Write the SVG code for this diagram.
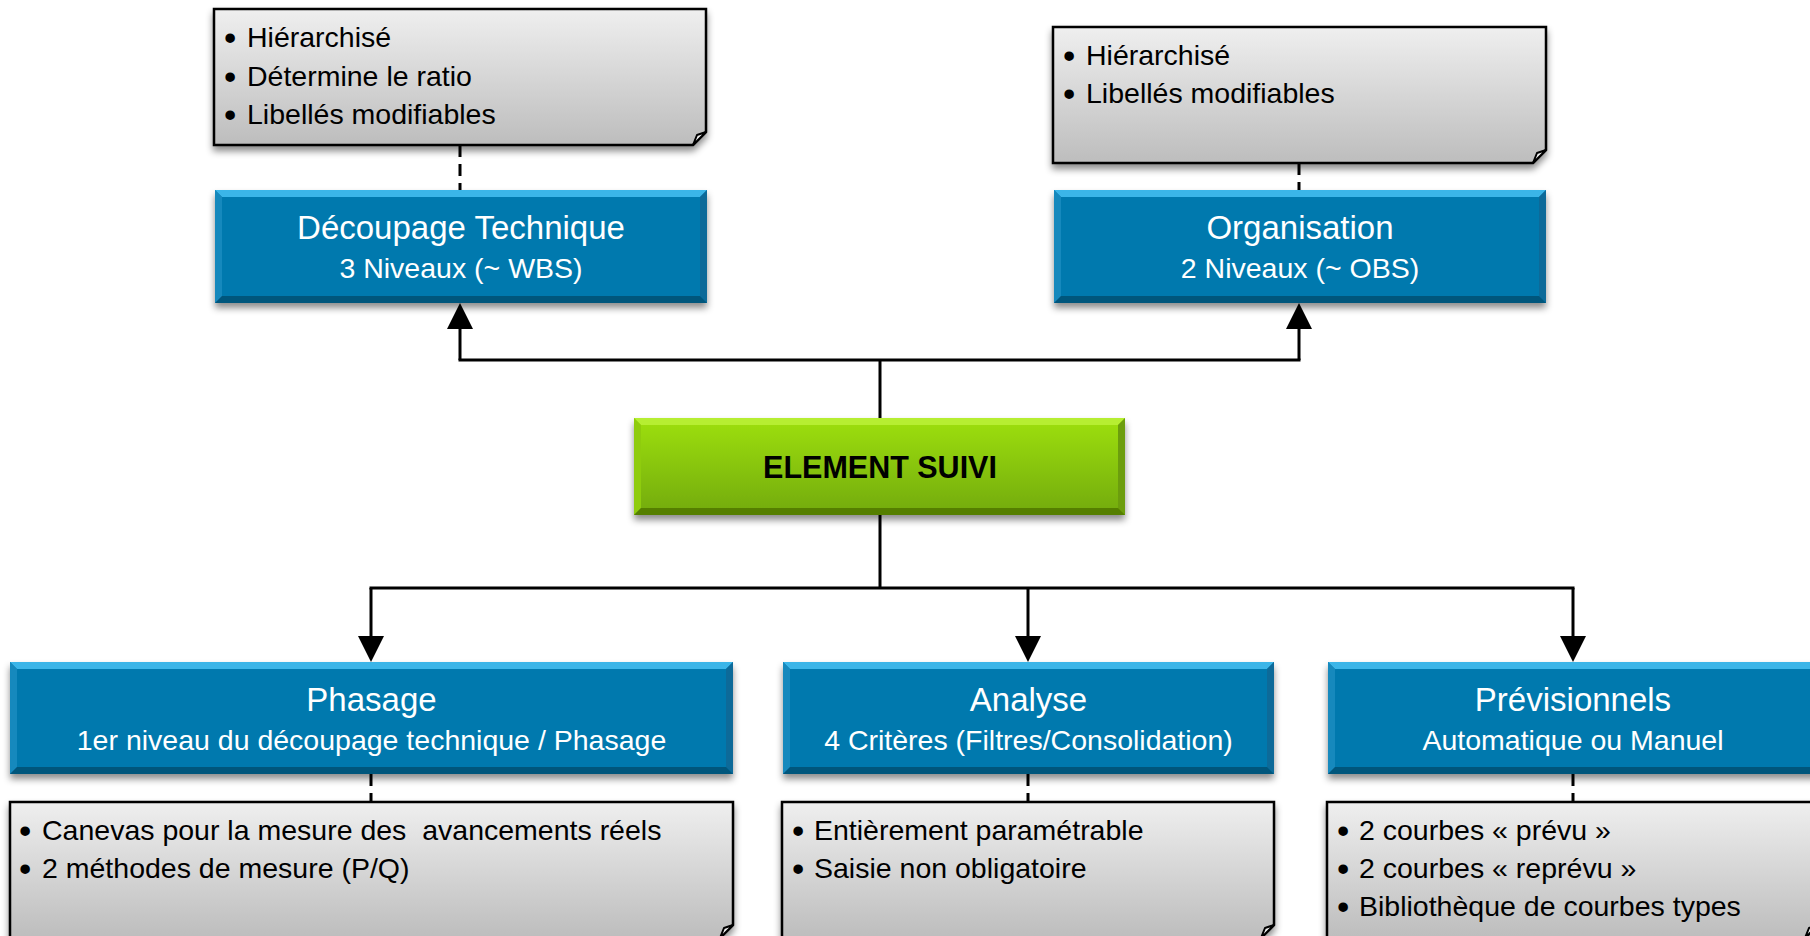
<svg xmlns="http://www.w3.org/2000/svg" width="1810" height="936" viewBox="0 0 1810 936">
<style>
.t{font-family:"Liberation Sans",Arial,sans-serif;}
.title{font-size:33px;fill:#fff;text-anchor:middle;}
.sub{font-size:28.5px;fill:#fff;text-anchor:middle;}
.note{font-size:28.5px;fill:#000;}
.bu{font-size:35px;}
.main{font-size:30.5px;font-weight:bold;fill:#000;text-anchor:middle;}
.conn{fill:none;stroke:#000;stroke-width:3;}
.dash{fill:none;stroke:#000;stroke-width:3;stroke-dasharray:12,7;}
.nb{fill:url(#gNote);stroke:#000;stroke-width:2.5;}
.fold{fill:#f4f4f4;stroke:#000;stroke-width:2;stroke-linejoin:round;}
.bm{fill:#0679AE;}
.bt{fill:#3BB5E8;}
.bl{fill:#1589BD;}
.br{fill:#0A6A99;}
.bb{fill:#05567C;}
.gm{fill:url(#gGreen);}
.gt{fill:#B6EE30;}
.gl{fill:#8FCC0C;}
.gr{fill:#6C9D07;}
.gb{fill:#557F05;}
</style>
<defs>
<linearGradient id="gNote" x1="0" y1="0" x2="0" y2="1">
<stop offset="0" stop-color="#EFEFEF"/>
<stop offset="1" stop-color="#BDBDBD"/>
</linearGradient>
<linearGradient id="gGreen" x1="0" y1="0" x2="0" y2="1">
<stop offset="0" stop-color="#9EE00E"/>
<stop offset="1" stop-color="#72AA08"/>
</linearGradient>
<filter id="sh" x="-5%" y="-10%" width="110%" height="130%">
<feDropShadow dx="0" dy="5" stdDeviation="3.5" flood-color="#000" flood-opacity="0.45"/>
</filter>
<marker id="arr" markerUnits="userSpaceOnUse" markerWidth="26" markerHeight="26" refX="0" refY="13" orient="auto" viewBox="0 0 26 26">
<path d="M0,0 L26,13 L0,26 Z" fill="#000"/>
</marker>
</defs>

<g id="connectors">
<path class="dash" d="M460,145 V190"/>
<path class="dash" d="M1299,163 V190"/>
<path class="dash" d="M371,774 V802"/>
<path class="dash" d="M1028,774 V802"/>
<path class="dash" d="M1573,774 V802"/>
<path class="conn" d="M880,418 V360"/>
<path class="conn" d="M458.5,360 H1300.5"/>
<path class="conn" d="M460,360 V329" marker-end="url(#arr)"/>
<path class="conn" d="M1299,360 V329" marker-end="url(#arr)"/>
<path class="conn" d="M880,515 V588"/>
<path class="conn" d="M369.5,588 H1574.5"/>
<path class="conn" d="M371,588 V636" marker-end="url(#arr)"/>
<path class="conn" d="M1028,588 V636" marker-end="url(#arr)"/>
<path class="conn" d="M1573,588 V636" marker-end="url(#arr)"/>
</g>

<g id="note-wbs">
<path class="nb" filter="url(#sh)" d="M214,9 H706 V132 L693,145 H214 Z"/>
<path class="fold" d="M693,145 L697,135 L706,132 Z"/>
<text class="t note"><tspan class="bu" x="224" y="50">•</tspan><tspan x="247" y="47">Hiérarchisé</tspan></text>
<text class="t note"><tspan class="bu" x="224" y="89">•</tspan><tspan x="247" y="86">Détermine le ratio</tspan></text>
<text class="t note"><tspan class="bu" x="224" y="127">•</tspan><tspan x="247" y="124">Libellés modifiables</tspan></text>
</g>

<g id="note-obs">
<path class="nb" filter="url(#sh)" d="M1053,27 H1546 V150 L1533,163 H1053 Z"/>
<path class="fold" d="M1533,163 L1537,153 L1546,150 Z"/>
<text class="t note"><tspan class="bu" x="1063" y="68">•</tspan><tspan x="1086" y="65">Hiérarchisé</tspan></text>
<text class="t note"><tspan class="bu" x="1063" y="106">•</tspan><tspan x="1086" y="103">Libellés modifiables</tspan></text>
</g>

<g id="node-decoupage" filter="url(#sh)">
<rect class="bm" x="215" y="190" width="492" height="113"/>
<polygon class="bt" points="215,190 707,190 700,197 222,197"/>
<polygon class="bl" points="215,190 222,197 222,296 215,303"/>
<polygon class="br" points="707,190 707,303 700,296 700,197"/>
<polygon class="bb" points="215,303 707,303 700,296 222,296"/>
</g>
<g id="label-decoupage">
<text class="t title" x="461" y="239">Découpage Technique</text>
<text class="t sub" x="461" y="278">3 Niveaux (~ WBS)</text>
</g>

<g id="node-organisation" filter="url(#sh)">
<rect class="bm" x="1054" y="190" width="492" height="113"/>
<polygon class="bt" points="1054,190 1546,190 1539,197 1061,197"/>
<polygon class="bl" points="1054,190 1061,197 1061,296 1054,303"/>
<polygon class="br" points="1546,190 1546,303 1539,296 1539,197"/>
<polygon class="bb" points="1054,303 1546,303 1539,296 1061,296"/>
</g>
<g id="label-organisation">
<text class="t title" x="1300" y="239">Organisation</text>
<text class="t sub" x="1300" y="278">2 Niveaux (~ OBS)</text>
</g>

<g id="node-element" filter="url(#sh)">
<rect class="gm" x="634" y="418" width="491" height="97"/>
<polygon class="gt" points="634,418 1125,418 1118,425 641,425"/>
<polygon class="gl" points="634,418 641,425 641,508 634,515"/>
<polygon class="gr" points="1125,418 1125,515 1118,508 1118,425"/>
<polygon class="gb" points="634,515 1125,515 1118,508 641,508"/>
</g>
<g id="label-element">
<text class="t main" x="880" y="478">ELEMENT SUIVI</text>
</g>

<g id="node-phasage" filter="url(#sh)">
<rect class="bm" x="10" y="662" width="723" height="112"/>
<polygon class="bt" points="10,662 733,662 726,669 17,669"/>
<polygon class="bl" points="10,662 17,669 17,767 10,774"/>
<polygon class="br" points="733,662 733,774 726,767 726,669"/>
<polygon class="bb" points="10,774 733,774 726,767 17,767"/>
</g>
<g id="label-phasage">
<text class="t title" x="371.5" y="711">Phasage</text>
<text class="t sub" x="371.5" y="750">1er niveau du découpage technique / Phasage</text>
</g>

<g id="node-analyse" filter="url(#sh)">
<rect class="bm" x="783" y="662" width="491" height="112"/>
<polygon class="bt" points="783,662 1274,662 1267,669 790,669"/>
<polygon class="bl" points="783,662 790,669 790,767 783,774"/>
<polygon class="br" points="1274,662 1274,774 1267,767 1267,669"/>
<polygon class="bb" points="783,774 1274,774 1267,767 790,767"/>
</g>
<g id="label-analyse">
<text class="t title" x="1028.5" y="711">Analyse</text>
<text class="t sub" x="1028.5" y="750">4 Critères (Filtres/Consolidation)</text>
</g>

<g id="node-previsionnels" filter="url(#sh)">
<rect class="bm" x="1328" y="662" width="490" height="112"/>
<polygon class="bt" points="1328,662 1818,662 1811,669 1335,669"/>
<polygon class="bl" points="1328,662 1335,669 1335,767 1328,774"/>
<polygon class="br" points="1818,662 1818,774 1811,767 1811,669"/>
<polygon class="bb" points="1328,774 1818,774 1811,767 1335,767"/>
</g>
<g id="label-previsionnels">
<text class="t title" x="1573" y="711">Prévisionnels</text>
<text class="t sub" x="1573" y="750">Automatique ou Manuel</text>
</g>

<g id="note-phasage">
<path class="nb" filter="url(#sh)" d="M10,802 H733 V925 L720,938 H10 Z"/>
<path class="fold" d="M720,938 L724,928 L733,925 Z"/>
<text class="t note"><tspan class="bu" x="19" y="843">•</tspan><tspan x="42" y="840" xml:space="preserve">Canevas pour la mesure des  avancements réels</tspan></text>
<text class="t note"><tspan class="bu" x="19" y="881">•</tspan><tspan x="42" y="878">2 méthodes de mesure (P/Q)</tspan></text>
</g>

<g id="note-analyse">
<path class="nb" filter="url(#sh)" d="M782,802 H1274 V925 L1261,938 H782 Z"/>
<path class="fold" d="M1261,938 L1265,928 L1274,925 Z"/>
<text class="t note"><tspan class="bu" x="792" y="843">•</tspan><tspan x="814" y="840">Entièrement paramétrable</tspan></text>
<text class="t note"><tspan class="bu" x="792" y="881">•</tspan><tspan x="814" y="878">Saisie non obligatoire</tspan></text>
</g>

<g id="note-previsionnels">
<path class="nb" filter="url(#sh)" d="M1327,802 H1818 V925 L1805,938 H1327 Z"/>
<path class="fold" d="M1805,938 L1809,928 L1818,925 Z"/>
<text class="t note"><tspan class="bu" x="1337" y="843">•</tspan><tspan x="1359" y="840">2 courbes « prévu »</tspan></text>
<text class="t note"><tspan class="bu" x="1337" y="881">•</tspan><tspan x="1359" y="878">2 courbes « reprévu »</tspan></text>
<text class="t note"><tspan class="bu" x="1337" y="919">•</tspan><tspan x="1359" y="916">Bibliothèque de courbes types</tspan></text>
</g>
</svg>
